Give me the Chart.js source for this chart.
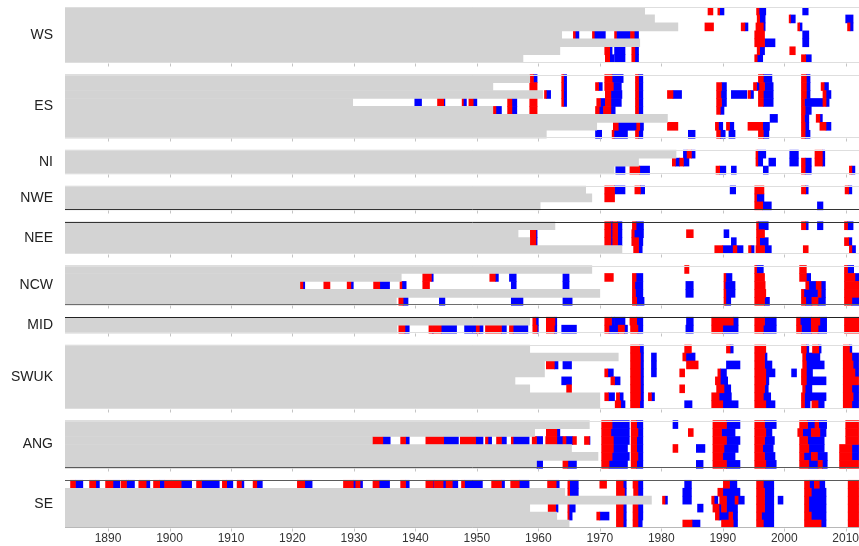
<!DOCTYPE html>
<html>
<head>
<meta charset="utf-8">
<script src="https://cdn.jsdelivr.net/npm/chart.js@4.4.1/dist/chart.umd.min.js"></script>
<style>
html, body { margin: 0; padding: 0; background: #fff; overflow: hidden; }
#wrap { position: absolute; left: 0; top: 0; width: 880px; height: 546px; }
</style>
</head>
<body>
<div id="wrap"><canvas id="chart"></canvas></div>
<script>
const regionNames = ['WS', 'ES', 'NI', 'NWE', 'NEE', 'NCW', 'MID', 'SWUK', 'ANG', 'SE'];
const decadeTicks = [1890, 1900, 1910, 1920, 1930, 1940, 1950, 1960, 1970, 1980, 1990, 2000, 2010];
const firstYear = 1883;

// year each record starts (grey = no data before it), one value per row
const wsStart = [1977.3, 1978.9, 1982.7, 1963.8, 1976.5, 1963.5, 1957.5];
const esStart = [1958.6, 1952.6, 1960.7, 1929.8, 1952.6, 1981.0, 1969.5, 1961.3];
const niStart = [1982.4, 1976.3, 1972.3];
const nweStart = [1967.7, 1968.7, 1960.3];
const neeStart = [1962.7, 1956.7, 1958.6, 1973.6];
const ncwStart = [1968.7, 1937.7, 1921.2, 1970.0, 1936.9];
const midStart = [1958.6, 1937.0];
const swukStart = [1958.6, 1973.0, 1961.0, 1961.0, 1956.2, 1958.6, 1970.0, 1970.0];
const angStart = [1968.3, 1959.4, 1933.0, 1965.4, 1969.7, 1959.7];
const seStart = [1883.0, 1964.3, 1978.4, 1958.6, 1963.0, 1965.0];

// events per row as [onset, peak, end]: red from onset to peak, blue from peak to end
const wsEvents = [
  [[1987.6,1988.4,1988.4],[1989.2,1989.5,1990.2],[1995.5,1995.9,1997.0],[2003.0,2003.0,2003.9]],
  [[1995.6,1996.0,1996.9],[2000.8,2001.0,2001.8],[2010.0,2010.0,2011.2]],
  [[1987.1,1988.5,1988.5],[1993.0,1993.6,1994.1],[1995.4,1996.6,1996.9],[2002.2,2002.5,2002.9],[2010.3,2010.7,2011.2]],
  [[1965.7,1966.0,1966.6],[1968.8,1969.1,1970.9],[1972.4,1972.7,1975.0],[1975.0,1975.6,1976.3],[1995.2,1996.8,1996.8],[2003.0,2003.0,2004.0]],
  [[1995.2,1996.8,1998.5],[2003.0,2003.0,2004.0]],
  [[1970.8,1971.6,1972.0],[1972.4,1972.4,1974.1],[1975.2,1975.7,1976.3],[1995.6,1996.0,1996.8],[2000.9,2001.8,2001.8]],
  [[1970.9,1971.6,1972.3],[1972.4,1972.4,1974.1],[1975.2,1975.7,1976.3],[1995.2,1995.6,1996.5],[2002.8,2003.5,2004.4]]
];
const esEvents = [
  [[1958.6,1959.2,1959.8],[1963.8,1964.1,1964.6],[1970.8,1972.0,1973.8],[1975.8,1976.3,1977.0],[1995.8,1996.6,1998.0],[2002.8,2003.6,2004.2]],
  [[1958.6,1959.8,1959.8],[1963.8,1964.1,1964.6],[1969.3,1969.8,1970.4],[1970.8,1972.2,1973.5],[1975.8,1976.3,1977.0],[1989.0,1989.8,1990.6],[1995.0,1995.5,1996.0],[1996.0,1996.8,1998.2],[2002.8,2003.6,2004.2],[2006.0,2006.5,2007.2]],
  [[1961.0,1961.3,1962.0],[1963.8,1964.1,1964.6],[1970.9,1971.8,1973.6],[1975.8,1976.3,1977.0],[1981.0,1981.9,1983.3],[1989.0,1989.7,1990.6],[1991.4,1991.4,1993.9],[1994.1,1994.5,1995.0],[1995.8,1996.6,1998.2],[2002.8,2003.6,2004.2],[2006.3,2006.8,2007.6]],
  [[1939.9,1939.9,1941.0],[1943.6,1944.6,1944.8],[1947.6,1947.8,1948.3],[1948.7,1949.4,1950.0],[1955.0,1955.7,1956.5],[1958.6,1959.8,1959.8],[1963.8,1964.1,1964.6],[1969.5,1970.1,1970.9],[1970.9,1971.8,1973.5],[1975.8,1976.3,1977.0],[1989.0,1989.8,1990.6],[1995.8,1996.6,1998.2],[2002.8,2003.3,2006.3],[2006.3,2006.8,2007.3]],
  [[1952.6,1953.1,1954.0],[1955.0,1955.7,1956.5],[1958.6,1959.8,1959.8],[1969.3,1969.9,1970.6],[1970.6,1971.8,1972.5],[1975.8,1976.3,1977.0],[1989.0,1989.6,1990.2],[2002.8,2003.4,2004.4]],
  [[1997.7,1997.7,1998.9],[2002.8,2003.3,2004.0],[2005.2,2005.8,2006.2]],
  [[1972.2,1973.0,1976.0],[1976.0,1976.5,1977.1],[1981.0,1982.7,1982.7],[1988.8,1989.3,1990.0],[1990.6,1991.1,1991.8],[1994.1,1996.5,1997.6],[2002.8,2003.4,2004.0],[2005.8,2006.8,2007.6]],
  [[1969.3,1969.3,1970.3],[1972.0,1972.3,1974.5],[1975.8,1976.3,1977.0],[1984.4,1984.4,1985.5],[1989.0,1989.6,1990.4],[1991.0,1991.0,1992.0],[1995.8,1996.6,1997.5],[2002.8,2003.4,2004.2]]
];
const niEvents = [
  [[1983.6,1983.6,1984.2],[1984.2,1984.9,1985.5],[1995.4,1995.7,1997.0],[2000.9,2000.9,2002.3],[2005.0,2006.2,2006.6]],
  [[1981.8,1982.3,1983.0],[1983.0,1983.6,1984.5],[1995.4,1995.7,1996.5],[1997.5,1997.5,1998.6],[2000.9,2000.9,2002.3],[2002.8,2003.4,2004.4],[2005.0,2006.2,2006.6]],
  [[1972.6,1972.6,1974.1],[1974.9,1976.5,1978.1],[1988.9,1989.5,1990.5],[1991.4,1991.4,1992.2],[1996.6,1996.6,1997.4],[2002.8,2003.4,2004.4],[2010.6,2011.0,2011.5]]
];
const nweEvents = [
  [[1970.8,1972.4,1974.1],[1975.7,1976.6,1977.3],[1991.2,1991.2,1992.1],[1995.2,1996.7,1996.7],[2002.8,2003.5,2003.9],[2009.9,2010.5,2011.0]],
  [[1970.8,1972.4,1972.4],[1995.2,1995.5,1996.7]],
  [[1995.2,1996.5,1997.9],[2005.4,2005.4,2006.3]]
];
const neeEvents = [
  [[1970.8,1971.8,1972.1],[1972.1,1972.9,1973.6],[1975.3,1975.9,1977.1],[1995.5,1995.8,1997.4],[2002.8,2003.5,2003.9],[2005.4,2005.4,2006.3],[2009.8,2010.3,2011.2]],
  [[1958.7,1959.6,1959.8],[1970.8,1971.8,1972.1],[1972.1,1972.9,1973.6],[1975.2,1975.6,1977.1],[1984.1,1985.2,1985.2],[1990.2,1990.2,1991.0],[1995.5,1996.8,1996.8]],
  [[1958.7,1959.6,1959.8],[1970.8,1971.8,1972.1],[1972.1,1972.9,1973.6],[1975.2,1976.3,1977.0],[1991.4,1991.4,1992.2],[1995.5,1996.0,1997.4],[2009.8,2010.5,2011.0]],
  [[1975.5,1976.3,1976.9],[1988.7,1990.0,1991.7],[1991.7,1992.3,1993.3],[1994.2,1994.6,1995.1],[1995.4,1996.8,1997.9],[2003.1,2003.9,2003.9],[2010.6,2011.0,2011.6]]
];
const ncwEvents = [
  [[1983.8,1984.5,1984.5],[1995.2,1995.5,1996.6],[2002.5,2003.6,2003.6],[2009.8,2010.3,2011.3]],
  [[1941.2,1942.6,1942.9],[1952.1,1953.0,1953.5],[1955.3,1955.3,1956.4],[1964.0,1964.0,1965.0],[1970.8,1972.2,1972.2],[1975.3,1975.9,1977.0],[1990.2,1990.5,1991.5],[1995.2,1996.8,1996.8],[2002.5,2003.6,2004.3],[2009.8,2011.5,2012.5]],
  [[1921.2,1921.7,1922.0],[1925.1,1926.1,1926.1],[1928.9,1929.5,1929.9],[1933.2,1934.2,1935.8],[1937.5,1937.8,1938.5],[1941.2,1942.3,1942.3],[1955.6,1955.6,1956.4],[1964.0,1964.0,1965.0],[1975.3,1975.7,1977.0],[1984.0,1984.0,1985.2],[1990.2,1990.4,1992.0],[1995.2,1996.9,1996.9],[2003.5,2004.0,2005.2],[2005.2,2006.0,2006.7],[2009.8,2012.5,2012.5]],
  [[1975.3,1975.8,1977.0],[1984.0,1984.0,1985.2],[1990.2,1990.5,1992.0],[1995.2,1997.0,1997.0],[2002.8,2003.2,2005.5],[2005.5,2006.0,2006.7],[2009.8,2012.5,2012.5]],
  [[1937.3,1938.0,1938.8],[1943.9,1943.9,1944.8],[1955.6,1955.6,1957.5],[1964.0,1964.0,1965.5],[1975.3,1976.0,1977.2],[1990.2,1990.5,1991.3],[1995.2,1996.8,1997.6],[2002.8,2003.5,2004.5],[2004.5,2005.5,2006.7],[2009.8,2011.0,2012.5]]
];
const midEvents = [
  [[1959.1,1959.6,1960.0],[1961.3,1962.7,1963.0],[1970.8,1971.9,1972.4],[1972.4,1972.4,1974.1],[1974.9,1976.0,1977.0],[1984.1,1984.1,1985.2],[1988.2,1991.7,1992.5],[1995.2,1996.8,1998.7],[2002.0,2002.6,2004.4],[2004.4,2005.8,2006.9],[2009.8,2012.2,2012.2]],
  [[1937.3,1938.3,1939.0],[1942.2,1942.8,1942.9],[1942.9,1944.2,1946.7],[1948.0,1948.0,1949.9],[1949.9,1950.4,1951.0],[1951.4,1954.0,1954.8],[1955.3,1955.9,1958.3],[1959.1,1959.8,1960.0],[1961.3,1962.6,1963.0],[1963.8,1963.8,1966.2],[1970.8,1971.5,1973.0],[1973.0,1974.0,1974.5],[1975.0,1976.2,1977.0],[1984.0,1984.0,1985.2],[1988.2,1990.0,1992.5],[1995.2,1996.6,1998.7],[2002.0,2002.8,2004.4],[2004.4,2005.5,2006.9],[2009.8,2012.2,2012.2]]
];
const swukEvents = [
  [[1975.0,1976.5,1977.1],[1983.8,1984.9,1984.9],[1990.6,1991.2,1991.7],[1995.2,1997.0,1997.0],[2002.8,2003.6,2004.0],[2004.6,2005.6,2006.0],[2009.6,2010.6,2011.0]],
  [[1975.0,1976.6,1977.1],[1978.4,1978.4,1979.2],[1983.5,1984.0,1985.5],[1995.2,1996.8,1997.2],[2003.0,2003.5,2005.8],[2009.6,2011.0,2012.1]],
  [[1961.3,1962.6,1963.2],[1964.0,1964.0,1965.4],[1975.0,1976.6,1977.1],[1978.4,1978.4,1979.2],[1984.1,1986.0,1986.0],[1990.6,1990.6,1992.8],[1995.2,1996.8,1998.0],[2003.0,2003.6,2006.5],[2009.6,2011.2,2012.1]],
  [[1970.8,1971.3,1972.2],[1975.0,1976.6,1977.1],[1978.4,1978.4,1979.2],[1983.0,1983.8,1983.8],[1989.2,1989.6,1990.6],[1995.2,1997.0,1998.5],[2001.2,2001.2,2002.0],[2002.8,2003.6,2004.6],[2009.6,2011.5,2012.1]],
  [[1963.8,1963.8,1965.4],[1971.8,1972.4,1973.3],[1975.0,1976.6,1977.1],[1988.8,1989.6,1990.8],[1995.2,1997.0,1997.5],[2002.8,2003.6,2006.8],[2009.6,2012.1,2012.1]],
  [[1964.6,1965.4,1965.4],[1975.0,1976.6,1977.1],[1983.0,1983.8,1983.8],[1989.0,1990.2,1991.3],[1995.2,1996.8,1997.4],[2003.0,2003.4,2004.5],[2009.6,2011.0,2012.1]],
  [[1970.8,1971.4,1972.4],[1972.7,1973.2,1973.8],[1975.0,1976.6,1977.1],[1977.9,1978.4,1978.9],[1988.2,1989.4,1991.4],[1995.2,1996.6,1997.8],[2002.8,2003.3,2006.8],[2009.6,2011.2,2012.1]],
  [[1972.5,1973.4,1974.1],[1975.0,1976.5,1977.1],[1983.8,1983.8,1985.0],[1988.2,1990.0,1992.5],[1995.2,1997.0,1998.5],[2002.8,2003.3,2004.2],[2004.5,2005.5,2006.5],[2009.6,2011.0,2012.1]]
];
const angEvents = [
  [[1970.3,1972.0,1974.8],[1975.1,1976.0,1977.0],[1981.9,1981.9,1982.7],[1988.4,1990.6,1992.8],[1995.2,1996.8,1998.7],[2002.5,2003.8,2005.0],[2005.0,2005.6,2006.9],[2010.0,2012.1,2012.1]],
  [[1961.3,1963.0,1963.5],[1970.3,1971.8,1974.8],[1975.1,1976.2,1977.0],[1984.4,1985.2,1985.2],[1988.4,1989.8,1992.0],[1995.2,1997.0,1998.0],[2002.2,2003.0,2004.4],[2004.4,2005.8,2006.8],[2010.0,2012.1,2012.1]],
  [[1933.0,1934.7,1935.9],[1937.6,1938.4,1939.0],[1941.7,1944.6,1947.0],[1947.3,1949.8,1951.0],[1951.4,1951.8,1952.4],[1953.2,1954.0,1954.8],[1955.6,1955.9,1958.5],[1959.0,1959.7,1960.7],[1961.2,1963.0,1964.0],[1964.0,1964.5,1965.6],[1965.6,1966.2,1966.2],[1967.5,1968.3,1968.4],[1970.3,1972.2,1974.8],[1975.1,1976.0,1977.0],[1988.4,1990.6,1992.8],[1995.2,1996.8,1998.4],[2002.5,2003.8,2006.5],[2010.0,2012.1,2012.1]],
  [[1970.3,1972.2,1974.5],[1975.1,1976.0,1977.0],[1981.9,1982.7,1982.7],[1985.7,1985.7,1987.1],[1988.4,1990.2,1992.5],[1995.2,1996.5,1998.2],[2002.5,2004.0,2006.5],[2009.0,2011.0,2012.1]],
  [[1970.3,1972.0,1974.8],[1975.1,1976.2,1977.0],[1988.4,1990.0,1992.0],[1995.2,1996.8,1998.5],[2002.5,2003.2,2004.4],[2004.4,2005.4,2007.0],[2009.0,2011.0,2012.1]],
  [[1959.7,1959.7,1960.7],[1964.0,1964.8,1966.2],[1970.3,1971.5,1974.5],[1975.1,1976.0,1977.0],[1985.7,1985.7,1986.8],[1988.4,1990.6,1992.8],[1995.2,1997.0,1998.7],[2002.5,2004.0,2005.5],[2005.5,2006.2,2007.0],[2009.0,2012.1,2012.1]]
];
const seEvents = [
  [[1883.9,1884.7,1885.9],[1887.0,1888.0,1888.6],[1889.6,1890.8,1891.9],[1892.1,1893.0,1893.3],[1893.3,1893.3,1894.3],[1895.0,1896.2,1896.8],[1897.4,1898.4,1899.2],[1899.2,1900.3,1900.3],[1900.3,1901.9,1903.6],[1904.4,1905.2,1908.1],[1908.6,1909.3,1910.3],[1911.0,1911.7,1912.1],[1913.6,1914.2,1915.1],[1920.8,1922.0,1923.2],[1928.3,1929.9,1930.3],[1930.3,1931.0,1931.4],[1933.1,1934.1,1935.8],[1937.6,1938.4,1939.0],[1941.7,1942.9,1943.1],[1943.1,1944.5,1945.0],[1945.0,1946.0,1946.9],[1947.5,1948.0,1950.9],[1952.4,1954.0,1954.5],[1955.5,1956.9,1958.5],[1961.5,1962.9,1963.4],[1964.8,1965.1,1966.5],[1970.0,1971.1,1971.1],[1972.7,1973.8,1974.3],[1975.4,1976.2,1977.0],[1983.8,1983.8,1984.9],[1990.1,1991.1,1992.3],[1995.5,1996.6,1998.3],[2003.3,2004.1,2004.9],[2004.9,2005.7,2006.6],[2010.4,2012.1,2012.1]],
  [[1964.8,1965.1,1966.5],[1972.7,1974.0,1974.3],[1975.5,1976.2,1977.0],[1983.5,1983.5,1984.9],[1989.2,1990.0,1992.8],[1995.5,1996.8,1998.3],[2003.3,2004.4,2006.8],[2010.4,2012.1,2012.1]],
  [[1980.2,1980.6,1981.0],[1983.5,1983.5,1984.9],[1988.2,1988.6,1989.2],[1989.5,1990.6,1992.0],[1992.0,1992.5,1993.5],[1995.5,1996.8,1998.3],[1999.0,1999.0,1999.8],[2003.3,2004.0,2006.8],[2010.4,2012.1,2012.1]],
  [[1961.6,1962.8,1963.2],[1964.8,1965.0,1966.0],[1972.7,1973.8,1974.3],[1975.4,1976.2,1977.0],[1985.9,1985.9,1986.8],[1988.4,1989.4,1989.8],[1989.8,1990.6,1992.4],[1995.5,1996.8,1998.3],[2003.3,2004.0,2006.8],[2010.4,2012.1,2012.1]],
  [[1964.8,1965.0,1965.5],[1969.5,1970.0,1971.5],[1972.7,1973.8,1974.3],[1975.4,1976.2,1977.0],[1988.8,1989.4,1991.0],[1991.0,1991.6,1992.4],[1995.5,1996.3,1998.3],[2003.3,2004.4,2006.8],[2010.4,2012.1,2012.1]],
  [[1972.7,1973.8,1974.3],[1975.4,1976.2,1976.9],[1983.5,1985.0,1986.3],[1989.8,1991.7,1992.4],[1995.5,1996.6,1998.3],[2003.3,2006.0,2006.8],[2010.4,2012.1,2012.1]]
];

const startsByRegion = [wsStart, esStart, niStart, nweStart, neeStart, ncwStart, midStart, swukStart, angStart, seStart];
const eventsByRegion = [wsEvents, esEvents, niEvents, nweEvents, neeEvents, ncwEvents, midEvents, swukEvents, angEvents, seEvents];

// panel edge colours [top, bottom]
const edgeColours = [
  ['#dedede', '#dedede'], ['#dedede', '#dedede'], ['#dedede', '#dedede'], ['#dedede', '#333333'],
  ['#333333', '#dedede'], ['#dedede', '#6e6e6e'], ['#222222', '#dedede'], ['#dedede', '#dedede'],
  ['#dedede', '#5a5a5a'], ['#5a5a5a', '#b8b8b8']
];

// stack the panels on one y axis, leaving a gap between regions
const GAP = 1.5;
const panels = [];
let offset = 0;
regionNames.forEach((name, r) => {
  const n = startsByRegion[r].length;
  panels.push({ name, first: offset, from: offset - 0.5, to: offset + n - 0.5, mid: offset + (n - 1) / 2 });
  offset += n + GAP;
});
const yMax = offset - GAP - 0.5;

const greyData = [], redData = [], blueData = [];
regionNames.forEach((name, r) => {
  startsByRegion[r].forEach((s, i) => {
    const y = panels[r].first + i;
    if (s > firstYear) greyData.push({ x: [firstYear, s], y: y });
    eventsByRegion[r][i].forEach(ev => {
      if (ev[1] > ev[0]) redData.push({ x: [ev[0], ev[1]], y: y });
      if (ev[2] > ev[1]) blueData.push({ x: [ev[1], ev[2]], y: y });
    });
  });
});

const panelLines = {
  id: 'panelLines',
  afterDatasetsDraw(chart) {
    const { ctx, chartArea, scales } = chart;
    const x = scales.x, y = scales.y;
    ctx.save();
    ctx.lineWidth = 1;
    panels.forEach((p, r) => {
      const top = Math.round(y.getPixelForValue(p.from)) + 0.5;
      const bot = Math.round(y.getPixelForValue(p.to)) - 0.5;
      ctx.strokeStyle = edgeColours[r][0];
      ctx.beginPath(); ctx.moveTo(chartArea.left, top); ctx.lineTo(chartArea.right, top); ctx.stroke();
      ctx.strokeStyle = edgeColours[r][1];
      ctx.beginPath(); ctx.moveTo(chartArea.left, bot); ctx.lineTo(chartArea.right, bot); ctx.stroke();
      ctx.strokeStyle = '#c4c4c4';
      decadeTicks.forEach(t => {
        const px = Math.round(x.getPixelForValue(t)) + 0.5;
        ctx.beginPath(); ctx.moveTo(px, bot + 1); ctx.lineTo(px, bot + 4); ctx.stroke();
      });
    });
    ctx.restore();
  }
};

Chart.defaults.font.family = '"Liberation Sans", Arial, sans-serif';

new Chart(document.getElementById('chart'), {
  type: 'bar',
  data: {
    datasets: [
      { label: 'no data', data: greyData, backgroundColor: '#d3d3d3' },
      { label: 'red', data: redData, backgroundColor: '#ff0000' },
      { label: 'blue', data: blueData, backgroundColor: '#0000ff' }
    ]
  },
  options: {
    indexAxis: 'y',
    responsive: true,
    maintainAspectRatio: false,
    animation: false,
    events: [],
    grouped: false,
    barPercentage: 1,
    categoryPercentage: 1,
    borderWidth: 0,
    layout: { padding: { top: 7, left: 0, right: 0, bottom: 0 } },
    plugins: { legend: { display: false }, tooltip: { enabled: false } },
    scales: {
      x: {
        type: 'linear',
        position: 'bottom',
        min: firstYear,
        max: 2015.58,
        offset: false,
        afterBuildTicks: s => { s.ticks = decadeTicks.map(v => ({ value: v })); },
        ticks: { callback: v => String(v), font: { size: 12 }, color: '#333', padding: 3, maxRotation: 0, autoSkip: false },
        grid: { display: false, drawTicks: false, offset: false },
        border: { display: false },
        afterFit: s => { s.height = 18; s.paddingLeft = 0; s.paddingRight = 0; }
      },
      y: {
        type: 'linear',
        reverse: true,
        min: -0.5,
        max: yMax,
        offset: false,
        afterBuildTicks: s => { s.ticks = panels.map(p => ({ value: p.mid })); },
        ticks: { callback: (v, i) => panels[i].name, font: { size: 14 }, color: '#222', padding: 12, autoSkip: false },
        grid: { display: false, drawTicks: false, offset: false },
        border: { display: false },
        afterFit: s => { s.width = 65; s.paddingTop = 0; s.paddingBottom = 0; }
      }
    }
  },
  plugins: [panelLines]
});
</script>
</body>
</html>
